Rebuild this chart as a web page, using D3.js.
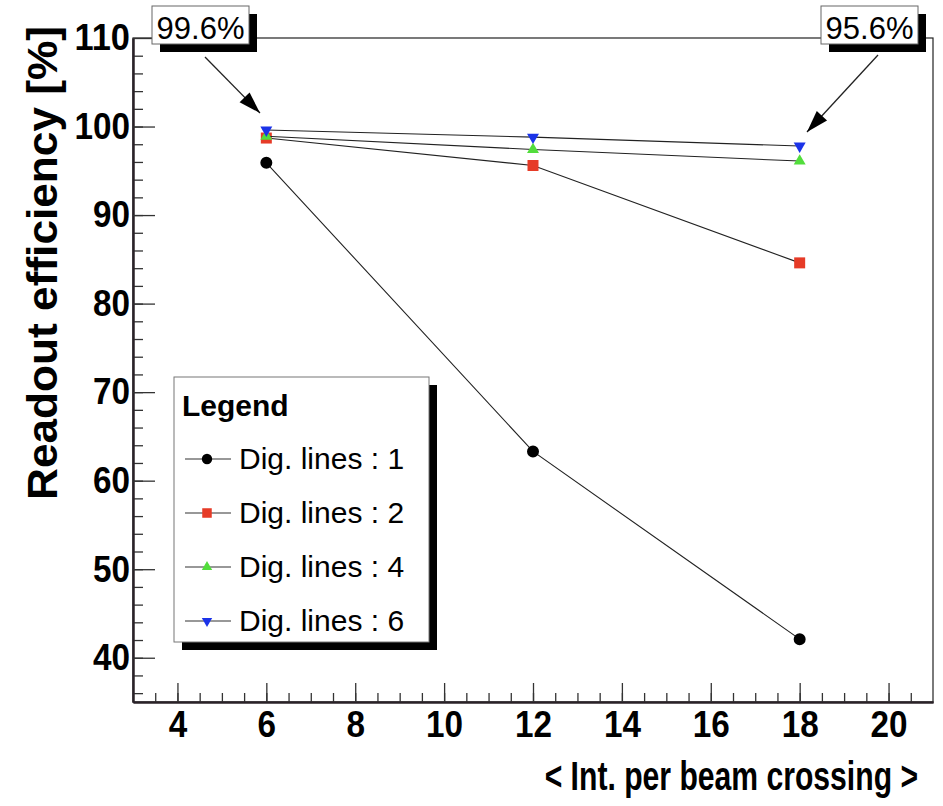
<!DOCTYPE html>
<html>
<head>
<meta charset="utf-8">
<script src="https://cdn.jsdelivr.net/npm/d3@7"></script>
<style>
  body { margin: 0; background: #fff; }
  svg { display: block; }
  text { font-family: 'Liberation Sans', Arial, Helvetica, sans-serif; fill: #000; }
</style>
</head>
<body>
<svg id="chart" width="943" height="806"></svg>
<script>
'use strict';

// values
const interactions = [6, 12, 18];
const effDigLines1 = [95.9, 63.3, 42.1];
const effDigLines2 = [98.7, 95.6, 84.6];
const effDigLines4 = [98.9, 97.4, 96.1];
const effDigLines6 = [99.6, 98.8, 97.8];
const seriesLabels = ['Dig. lines : 1', 'Dig. lines : 2', 'Dig. lines : 4', 'Dig. lines : 6'];
const xTickValues = [4, 6, 8, 10, 12, 14, 16, 18, 20];
const yTickValues = [40, 50, 60, 70, 80, 90, 100, 110];
const annotationLabels = ['99.6%', '95.6%'];

const frame = { left: 133, top: 38, right: 933, bottom: 702 };

const svg = d3.select('#chart');

const x = d3.scaleLinear().domain([3, 21]).range([frame.left, frame.right]);
const y = d3.scaleLinear().domain([35, 110]).range([frame.bottom, frame.top]);

const invertedTriangle = {
  draw(context, size) {
    const h = Math.sqrt(size / 0.433);
    const r = h / Math.sqrt(3);
    context.moveTo(-h / 2, -r / 2);
    context.lineTo(h / 2, -r / 2);
    context.lineTo(0, r);
    context.closePath();
  },
};

const series = [
  { label: seriesLabels[0], values: effDigLines1, color: '#000000', symbol: d3.symbolCircle, size: 113 },
  { label: seriesLabels[1], values: effDigLines2, color: '#e63b27', symbol: d3.symbolSquare, size: 121 },
  { label: seriesLabels[2], values: effDigLines4, color: '#52dd3c', symbol: d3.symbolTriangle, size: 62 },
  { label: seriesLabels[3], values: effDigLines6, color: '#1b33e8', symbol: invertedTriangle, size: 62 },
];

// frame: thin top/right lines
svg.append('rect')
  .attr('x', frame.left)
  .attr('y', frame.top)
  .attr('width', frame.right - frame.left)
  .attr('height', frame.bottom - frame.top)
  .attr('fill', 'none')
  .attr('stroke', '#222')
  .attr('stroke-width', 1.2);

// tick labels are a bit narrow and tall in the original
const styleAxis = (g) => {
  g.select('.domain').attr('stroke', '#2a2228').attr('stroke-width', 2);
  g.selectAll('.tick line').attr('stroke', '#333').attr('stroke-width', 1.3);
  g.selectAll('.tick text')
    .attr('fill', '#000')
    .attr('textLength', function () { return this.textContent.length * 18.5; })
    .attr('lengthAdjust', 'spacingAndGlyphs')
    .style('font-size', '37px')
    .style('font-weight', 'bold');
};

// minor ticks first, majors on top
svg.append('g')
  .attr('transform', `translate(0,${frame.bottom})`)
  .call(d3.axisBottom(x).tickValues(d3.range(3.5, 21, 0.5)).tickSize(-9).tickSizeOuter(0).tickFormat(''))
  .call(styleAxis);
svg.append('g')
  .attr('transform', `translate(0,${frame.bottom})`)
  .call(d3.axisBottom(x).tickValues(xTickValues).tickSize(-19).tickSizeOuter(0).tickPadding(9))
  .call(styleAxis);

svg.append('g')
  .attr('transform', `translate(${frame.left},0)`)
  .call(d3.axisLeft(y).tickValues(d3.range(36, 110, 2)).tickSize(-10).tickSizeOuter(0).tickFormat(''))
  .call(styleAxis);
svg.append('g')
  .attr('transform', `translate(${frame.left},0)`)
  .call(d3.axisLeft(y).tickValues(yTickValues).tickSize(-22).tickSizeOuter(0).tickPadding(3))
  .call(styleAxis);

// axis titles (x title is condensed in the original)
svg.append('text')
  .attr('transform', 'translate(918,790) scale(0.735,1)')
  .attr('text-anchor', 'end')
  .style('font-size', '41px')
  .style('font-weight', 'bold')
  .text('< Int. per beam crossing >');

svg.append('text')
  .attr('transform', 'translate(57,26) rotate(-90)')
  .attr('text-anchor', 'end')
  .attr('textLength', 474)
  .attr('lengthAdjust', 'spacingAndGlyphs')
  .style('font-size', '42px')
  .style('font-weight', 'bold')
  .text('Readout efficiency [%]');

// data lines and markers
const line = d3.line()
  .x((d) => x(d.x))
  .y((d) => y(d.y));

const seriesGroups = svg.append('g')
  .selectAll('g')
  .data(series)
  .join('g');

seriesGroups.append('path')
  .attr('d', (s) => line(interactions.map((v, i) => ({ x: v, y: s.values[i] }))))
  .attr('fill', 'none')
  .attr('stroke', '#222')
  .attr('stroke-width', 1.1);

seriesGroups.each(function (s) {
  d3.select(this)
    .selectAll('path.marker')
    .data(interactions.map((v, i) => ({ x: v, y: s.values[i] })))
    .join('path')
    .classed('marker', true)
    .attr('transform', (d) => `translate(${x(d.x)},${y(d.y)})`)
    .attr('d', d3.symbol(s.symbol, s.size))
    .attr('fill', s.color);
});

// legend
const legend = svg.append('g').attr('transform', 'translate(174,377)');
legend.append('rect')
  .attr('x', 8).attr('y', 8)
  .attr('width', 255).attr('height', 265)
  .attr('fill', '#000');
legend.append('rect')
  .attr('width', 255).attr('height', 265)
  .attr('fill', '#fff')
  .attr('stroke', '#777')
  .attr('stroke-width', 1);
legend.append('text')
  .attr('x', 8)
  .attr('y', 39)
  .style('font-size', '30px')
  .style('font-weight', 'bold')
  .text('Legend');

const legendItems = legend.selectAll('g.item')
  .data(series)
  .join('g')
  .classed('item', true)
  .attr('transform', (d, i) => `translate(0,${82 + i * 54})`);
legendItems.append('line')
  .attr('x1', 11).attr('x2', 57)
  .attr('stroke', '#333')
  .attr('stroke-width', 1.1);
legendItems.append('path')
  .attr('transform', 'translate(33,0)')
  .attr('d', (s) => d3.symbol(s.symbol, s.size * 0.75)())
  .attr('fill', (s) => s.color);
legendItems.append('text')
  .attr('x', 65)
  .attr('y', 10)
  .style('font-size', '30px')
  .text((s) => s.label);

// annotation boxes with arrows
const annotations = [
  { label: annotationLabels[0], box: [152, 6], from: [205, 57], to: [260, 113] },
  { label: annotationLabels[1], box: [821, 6], from: [878, 55], to: [807, 132] },
];

annotations.forEach((a) => {
  const g = svg.append('g');
  g.append('rect')
    .attr('x', a.box[0] + 8).attr('y', a.box[1] + 8)
    .attr('width', 97).attr('height', 38)
    .attr('fill', '#000');
  g.append('rect')
    .attr('x', a.box[0]).attr('y', a.box[1])
    .attr('width', 97).attr('height', 38)
    .attr('fill', '#fff')
    .attr('stroke', '#666');
  g.append('text')
    .attr('x', a.box[0] + 48.5)
    .attr('y', a.box[1] + 33)
    .attr('text-anchor', 'middle')
    .style('font-size', '31px')
    .text(a.label);
  g.append('line')
    .attr('x1', a.from[0]).attr('y1', a.from[1])
    .attr('x2', a.to[0]).attr('y2', a.to[1])
    .attr('stroke', '#222')
    .attr('stroke-width', 1.3);
  // filled arrow head
  const ang = Math.atan2(a.to[1] - a.from[1], a.to[0] - a.from[0]);
  const len = 22;
  const wid = 7;
  const bx = a.to[0] - len * Math.cos(ang);
  const by = a.to[1] - len * Math.sin(ang);
  g.append('path')
    .attr('d', `M${a.to[0]},${a.to[1]} L${bx + wid * Math.sin(ang)},${by - wid * Math.cos(ang)} L${bx - wid * Math.sin(ang)},${by + wid * Math.cos(ang)} Z`)
    .attr('fill', '#000');
});
</script>
</body>
</html>
